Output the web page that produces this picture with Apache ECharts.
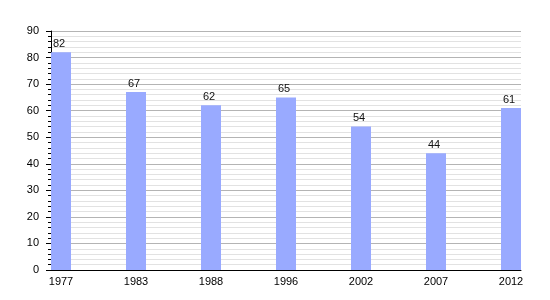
<!DOCTYPE html>
<html><head><meta charset="utf-8">
<script src="https://cdn.jsdelivr.net/npm/echarts@6/dist/echarts.min.js"></script>
<style>html,body{margin:0;padding:0;background:#fff}#c{width:550px;height:300px}</style>
</head><body><div id="c"></div>
<script>
const years = ['1977','1983','1988','1996','2002','2007','2012'];
const values = [82, 67, 62, 65, 54, 44, 61];
const yTicks = [0,10,20,30,40,50,60,70,80,90];

const chart = echarts.init(document.getElementById('c'), null, {renderer:'canvas'});
const positions = years.map((_, i) => i);
chart.setOption({
  animation: false,
  grid: {left: 51, right: 29, top: 31, bottom: 30, containLabel: false},
  xAxis: {
    type: 'value', position: 'bottom', min: -10/75, max: 460/75,
    axisLine: {show: true, onZero: false, lineStyle: {color: '#000', width: 1}},
    axisTick: {show: false},
    splitLine: {show: false},
    axisLabel: {
      customValues: positions,
      formatter: v => years[Math.round(v)] || '',
      color: '#000', fontSize: 11, fontFamily: 'Liberation Sans, Arial, sans-serif', margin: 6
    }
  },
  yAxis: {
    type: 'value', position: 'left', min: yTicks[0], max: yTicks[yTicks.length-1], interval: 10,
    axisLine: {show: true, onZero: false, lineStyle: {color: '#000', width: 1}},
    axisTick: {show: true, inside: false, length: 5, lineStyle: {color: '#000'}},
    minorTick: {show: true, splitNumber: 5, length: 3, lineStyle: {color: '#000'}},
    splitLine: {show: true, lineStyle: {color: '#b4b4b4', width: 1}},
    minorSplitLine: {show: true, lineStyle: {color: '#e2e2e2', width: 1}},
    axisLabel: {color: '#000', fontSize: 11, fontFamily: 'Liberation Sans, Arial, sans-serif', margin: 12}
  },
  series: [{
    type: 'bar',
    data: values.map((v, i) => [positions[i], v]),
    barWidth: 20,
    itemStyle: {color: '#99aaff'},
    label: {show: true, position: 'top', distance: 3, offset: [-2, 0], color: '#111', fontSize: 11, fontFamily: 'Liberation Sans, Arial, sans-serif'}
  }]
});
</script></body></html>
